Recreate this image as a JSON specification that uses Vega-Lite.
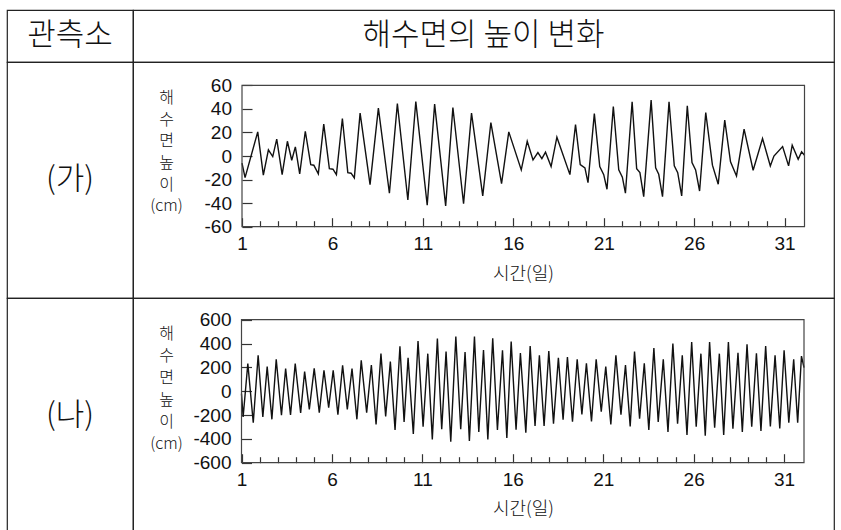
{
  "$schema": "https://vega.github.io/schema/vega-lite/v6.json",
  "padding": {"left": 6, "top": 9, "right": 0, "bottom": 0},
  "columns": 2,
  "spacing": 0,
  "bounds": "flush",
  "config": {
    "font": "Noto Sans CJK KR",
    "view": {"stroke": "#222", "strokeWidth": 1.2},
    "text": {"color": "#111", "fontWeight": 300},
    "axis": {
      "grid": false, "domain": false,
      "labelFont": "Liberation Sans", "titleFont": "Noto Sans CJK KR",
      "labelFontSize": 19, "titleFontSize": 18,
      "labelFontWeight": "normal", "titleFontWeight": 300,
      "labelColor": "#111", "titleColor": "#111",
      "tickColor": "#333", "tickWidth": 1.2,
      "labelFlush": false, "labelOverlap": false
    }
  },
  "datasets": {
    "ga": [
      {"d": 1.0, "h": -6}, {"d": 1.17, "h": -18.4}, {"d": 1.87, "h": 20.5}, {"d": 2.18, "h": -16.3},
      {"d": 2.46, "h": 5.2}, {"d": 2.70, "h": -0.5}, {"d": 2.92, "h": 14.3}, {"d": 3.22, "h": -15.8},
      {"d": 3.51, "h": 12.5}, {"d": 3.75, "h": -3.6}, {"d": 3.95, "h": 7.7}, {"d": 4.19, "h": -15.2},
      {"d": 4.50, "h": 21}, {"d": 4.80, "h": -7.3}, {"d": 4.97, "h": -7.8}, {"d": 5.22, "h": -15.2},
      {"d": 5.52, "h": 27}, {"d": 5.83, "h": -10.7}, {"d": 6.03, "h": -11.2}, {"d": 6.22, "h": -15.8},
      {"d": 6.55, "h": 31.8}, {"d": 6.85, "h": -14.1}, {"d": 7.03, "h": -14.6}, {"d": 7.21, "h": -18.6},
      {"d": 7.53, "h": 36.4}, {"d": 8.08, "h": -24.3}, {"d": 8.54, "h": 40.6}, {"d": 9.15, "h": -31.6},
      {"d": 9.59, "h": 44.5}, {"d": 10.17, "h": -37.3}, {"d": 10.61, "h": 46.2}, {"d": 11.24, "h": -41.8},
      {"d": 11.65, "h": 44}, {"d": 12.26, "h": -42.4}, {"d": 12.66, "h": 41.2}, {"d": 13.25, "h": -40.5},
      {"d": 13.69, "h": 36.4}, {"d": 14.31, "h": -33.9}, {"d": 14.76, "h": 28.4}, {"d": 15.35, "h": -23.5},
      {"d": 15.75, "h": 20.5}, {"d": 16.44, "h": -11.8}, {"d": 16.77, "h": 12.4}, {"d": 17.09, "h": -3.3},
      {"d": 17.36, "h": 2.9}, {"d": 17.58, "h": -2.2}, {"d": 17.78, "h": 3.2}, {"d": 18.09, "h": -9},
      {"d": 18.41, "h": 16}, {"d": 19.13, "h": -15.8}, {"d": 19.44, "h": 26.7}, {"d": 19.70, "h": -7.3},
      {"d": 19.96, "h": -10.1}, {"d": 20.13, "h": -22.6}, {"d": 20.48, "h": 36}, {"d": 20.78, "h": -9},
      {"d": 21.0, "h": -15.8}, {"d": 21.18, "h": -28.2}, {"d": 21.53, "h": 42}, {"d": 21.83, "h": -11.8},
      {"d": 22.03, "h": -18}, {"d": 22.20, "h": -31.6}, {"d": 22.57, "h": 46}, {"d": 22.82, "h": -10.7},
      {"d": 23.0, "h": -14.1}, {"d": 23.21, "h": -34.5}, {"d": 23.62, "h": 47.4}, {"d": 23.87, "h": -10.1},
      {"d": 24.04, "h": -15.5}, {"d": 24.25, "h": -34.5}, {"d": 24.61, "h": 46}, {"d": 24.90, "h": -8.4},
      {"d": 25.09, "h": -14.1}, {"d": 25.31, "h": -33.9}, {"d": 25.62, "h": 42.6}, {"d": 25.88, "h": -5.6},
      {"d": 26.08, "h": -11.8}, {"d": 26.30, "h": -29.7}, {"d": 26.64, "h": 36.9}, {"d": 27.01, "h": -7.8},
      {"d": 27.33, "h": -24}, {"d": 27.69, "h": 30.4}, {"d": 28.01, "h": -5}, {"d": 28.34, "h": -16.9},
      {"d": 28.76, "h": 22.8}, {"d": 29.26, "h": -12.1}, {"d": 29.78, "h": 14.8}, {"d": 30.21, "h": -8.4},
      {"d": 30.41, "h": 0}, {"d": 30.89, "h": 8}, {"d": 31.22, "h": -8.4}, {"d": 31.42, "h": 9.2},
      {"d": 31.75, "h": -2.7}, {"d": 31.94, "h": 3.5}, {"d": 32.1, "h": 0.7}
    ],
    "na": [
      {"d": 1.0, "h": -20}, {"d": 1.09, "h": -216}, {"d": 1.35, "h": 231}, {"d": 1.65, "h": -264},
      {"d": 1.92, "h": 301}, {"d": 2.18, "h": -216}, {"d": 2.42, "h": 206}, {"d": 2.68, "h": -236},
      {"d": 2.92, "h": 267}, {"d": 3.21, "h": -202}, {"d": 3.44, "h": 189}, {"d": 3.71, "h": -200},
      {"d": 3.97, "h": 231}, {"d": 4.27, "h": -183}, {"d": 4.49, "h": 164}, {"d": 4.75, "h": -152},
      {"d": 5.02, "h": 192}, {"d": 5.30, "h": -180}, {"d": 5.56, "h": 175}, {"d": 5.82, "h": -138},
      {"d": 6.07, "h": 175}, {"d": 6.33, "h": -197}, {"d": 6.59, "h": 217}, {"d": 6.85, "h": -152},
      {"d": 7.11, "h": 189}, {"d": 7.38, "h": -236}, {"d": 7.62, "h": 259}, {"d": 7.92, "h": -180},
      {"d": 8.18, "h": 220}, {"d": 8.44, "h": -278}, {"d": 8.71, "h": 315}, {"d": 8.97, "h": -211},
      {"d": 9.23, "h": 248}, {"d": 9.49, "h": -326}, {"d": 9.76, "h": 377}, {"d": 9.99, "h": -258},
      {"d": 10.21, "h": 281}, {"d": 10.50, "h": -359}, {"d": 10.76, "h": 421}, {"d": 11.04, "h": -298},
      {"d": 11.30, "h": 315}, {"d": 11.55, "h": -404}, {"d": 11.83, "h": 441}, {"d": 12.07, "h": -320},
      {"d": 12.31, "h": 332}, {"d": 12.57, "h": -423}, {"d": 12.85, "h": 458}, {"d": 13.12, "h": -320},
      {"d": 13.36, "h": 329}, {"d": 13.60, "h": -418}, {"d": 13.88, "h": 458}, {"d": 14.12, "h": -342},
      {"d": 14.38, "h": 346}, {"d": 14.62, "h": -404}, {"d": 14.89, "h": 444}, {"d": 15.15, "h": -326},
      {"d": 15.43, "h": 343}, {"d": 15.67, "h": -393}, {"d": 15.91, "h": 416}, {"d": 16.18, "h": -323},
      {"d": 16.42, "h": 320}, {"d": 16.72, "h": -348}, {"d": 16.96, "h": 379}, {"d": 17.23, "h": -292},
      {"d": 17.47, "h": 301}, {"d": 17.73, "h": -292}, {"d": 17.99, "h": 337}, {"d": 18.25, "h": -272},
      {"d": 18.52, "h": 281}, {"d": 18.78, "h": -239}, {"d": 19.02, "h": 287}, {"d": 19.30, "h": -256},
      {"d": 19.56, "h": 267}, {"d": 19.82, "h": -194}, {"d": 20.07, "h": 234}, {"d": 20.35, "h": -253},
      {"d": 20.61, "h": 267}, {"d": 20.89, "h": -172}, {"d": 21.14, "h": 206}, {"d": 21.42, "h": -278},
      {"d": 21.70, "h": 301}, {"d": 21.98, "h": -197}, {"d": 22.23, "h": 220}, {"d": 22.49, "h": -295},
      {"d": 22.73, "h": 332}, {"d": 23.01, "h": -230}, {"d": 23.27, "h": 234}, {"d": 23.52, "h": -326},
      {"d": 23.80, "h": 363}, {"d": 24.04, "h": -258}, {"d": 24.32, "h": 267}, {"d": 24.58, "h": -342},
      {"d": 24.85, "h": 399}, {"d": 25.11, "h": -272}, {"d": 25.37, "h": 301}, {"d": 25.63, "h": -367},
      {"d": 25.89, "h": 413}, {"d": 26.14, "h": -298}, {"d": 26.40, "h": 315}, {"d": 26.64, "h": -373},
      {"d": 26.88, "h": 413}, {"d": 27.16, "h": -306}, {"d": 27.42, "h": 315}, {"d": 27.66, "h": -367},
      {"d": 27.92, "h": 413}, {"d": 28.17, "h": -314}, {"d": 28.45, "h": 323}, {"d": 28.69, "h": -342},
      {"d": 28.95, "h": 393}, {"d": 29.21, "h": -298}, {"d": 29.47, "h": 318}, {"d": 29.72, "h": -334},
      {"d": 29.98, "h": 379}, {"d": 30.24, "h": -295}, {"d": 30.50, "h": 301}, {"d": 30.76, "h": -312},
      {"d": 31.0, "h": 343}, {"d": 31.26, "h": -264}, {"d": 31.53, "h": 267}, {"d": 31.75, "h": -264},
      {"d": 31.96, "h": 295}, {"d": 32.1, "h": 198}
    ]
  },
  "concat": [
    {"width": 126, "height": 52, "data": {"values": [{"t": "관측소"}]},
     "mark": {"type": "text", "fontSize": 31},
     "encoding": {"text": {"field": "t"},
       "x": {"datum": 0.5, "type": "quantitative", "scale": {"domain": [0, 1]}, "axis": null},
       "y": {"datum": 0.5, "type": "quantitative", "scale": {"domain": [0, 1]}, "axis": null}}},
    {"width": 701, "height": 52, "data": {"values": [{"t": "해수면의 높이 변화"}]},
     "mark": {"type": "text", "fontSize": 31},
     "encoding": {"text": {"field": "t"},
       "x": {"datum": 0.5, "type": "quantitative", "scale": {"domain": [0, 1]}, "axis": null},
       "y": {"datum": 0.5, "type": "quantitative", "scale": {"domain": [0, 1]}, "axis": null}}},
    {"width": 126, "height": 236, "data": {"values": [{"t": "(가)"}]},
     "mark": {"type": "text", "fontSize": 31},
     "encoding": {"text": {"field": "t"},
       "x": {"datum": 0.5, "type": "quantitative", "scale": {"domain": [0, 1]}, "axis": null},
       "y": {"datum": 0.5, "type": "quantitative", "scale": {"domain": [0, 1]}, "axis": null}}},
    {
      "width": 701, "height": 236,
      "resolve": {"axis": {"x": "independent", "y": "independent"}},
      "layer": [
        {
          "data": {"name": "ga"},
          "mark": {"type": "line", "color": "#111", "strokeWidth": 1.4},
          "encoding": {
            "x": {"field": "d", "type": "quantitative",
              "scale": {"domain": [1, 32.1], "range": [109, 671.5], "nice": false, "zero": false},
              "axis": {"orient": "bottom", "offset": -71.3, "labelOverlap": false, "labelFontSize": 19,
                "values": [1,2,3,4,5,6,7,8,9,10,11,12,13,14,15,16,17,18,19,20,21,22,23,24,25,26,27,28,29,30,31],
                "tickSize": {"condition": {"test": "(datum.value - 1) % 5 === 0", "value": -9}, "value": -6},
                "labelExpr": "(datum.value - 1) % 5 === 0 ? '' + datum.value : ''",
                "labelPadding": 16.5,
                "title": "시간(일)", "titleX": 390, "titleY": 38.6, "titleAlign": "center", "titleBaseline": "top"}},
            "y": {"field": "h", "type": "quantitative",
              "scale": {"domain": [-60, 60], "range": [164.7, 23.3], "nice": false, "zero": false},
              "axis": {"orient": "left", "offset": -109, "labelOverlap": false, "labelFontSize": 19,
                "values": [-60, -40, -20, 0, 20, 40, 60],
                "tickSize": -10, "labelPadding": 20.5,
                "labelExpr": "'' + datum.value",
                "title": ["해", "수", "면", "높", "이", "(cm)"], "titleFontSize": 16,
                "titleAngle": 0, "titleX": -76, "titleY": 27.8, "titleAlign": "center", "titleBaseline": "top", "titleLineHeight": 21.6}}
          }
        },
        {
          "data": {"values": [{}]},
          "mark": {"type": "rect", "filled": false, "color": "#444", "strokeWidth": 1.2},
          "encoding": {
            "x": {"datum": 1, "type": "quantitative", "axis": null}, "x2": {"datum": 32.1},
            "y": {"datum": -60, "type": "quantitative", "axis": null}, "y2": {"datum": 60}
          }
        }
      ]
    },
    {"width": 126, "height": 236, "data": {"values": [{"t": "(나)"}]},
     "mark": {"type": "text", "fontSize": 31},
     "encoding": {"text": {"field": "t"},
       "x": {"datum": 0.5, "type": "quantitative", "scale": {"domain": [0, 1]}, "axis": null},
       "y": {"datum": 0.5, "type": "quantitative", "scale": {"domain": [0, 1]}, "axis": null}}},
    {
      "width": 701, "height": 236,
      "resolve": {"axis": {"x": "independent", "y": "independent"}},
      "layer": [
        {
          "data": {"name": "na"},
          "mark": {"type": "line", "color": "#111", "strokeWidth": 1.4},
          "encoding": {
            "x": {"field": "d", "type": "quantitative",
              "scale": {"domain": [1, 32.1], "range": [108.5, 671], "nice": false, "zero": false},
              "axis": {"orient": "bottom", "offset": -71.3, "labelOverlap": false, "labelFontSize": 19,
                "values": [1,2,3,4,5,6,7,8,9,10,11,12,13,14,15,16,17,18,19,20,21,22,23,24,25,26,27,28,29,30,31],
                "tickSize": {"condition": {"test": "(datum.value - 1) % 5 === 0", "value": -9}, "value": -6},
                "labelExpr": "(datum.value - 1) % 5 === 0 ? '' + datum.value : ''",
                "labelPadding": 16.5,
                "title": "시간(일)", "titleX": 390, "titleY": 37.5, "titleAlign": "center", "titleBaseline": "top"}},
            "y": {"field": "h", "type": "quantitative",
              "scale": {"domain": [-600, 600], "range": [164.7, 21.7], "nice": false, "zero": false},
              "axis": {"orient": "left", "offset": -108.5, "labelOverlap": false, "labelFontSize": 19,
                "values": [-600, -400, -200, 0, 200, 400, 600],
                "tickSize": -10, "labelPadding": 20.5,
                "labelExpr": "'' + datum.value",
                "title": ["해", "수", "면", "높", "이", "(cm)"], "titleFontSize": 16,
                "titleAngle": 0, "titleX": -75.5, "titleY": 27.3, "titleAlign": "center", "titleBaseline": "top", "titleLineHeight": 22}}
          }
        },
        {
          "data": {"values": [{}]},
          "mark": {"type": "rect", "filled": false, "color": "#444", "strokeWidth": 1.2},
          "encoding": {
            "x": {"datum": 1, "type": "quantitative", "axis": null}, "x2": {"datum": 32.1},
            "y": {"datum": -600, "type": "quantitative", "axis": null}, "y2": {"datum": 600}
          }
        }
      ]
    }
  ]
}
